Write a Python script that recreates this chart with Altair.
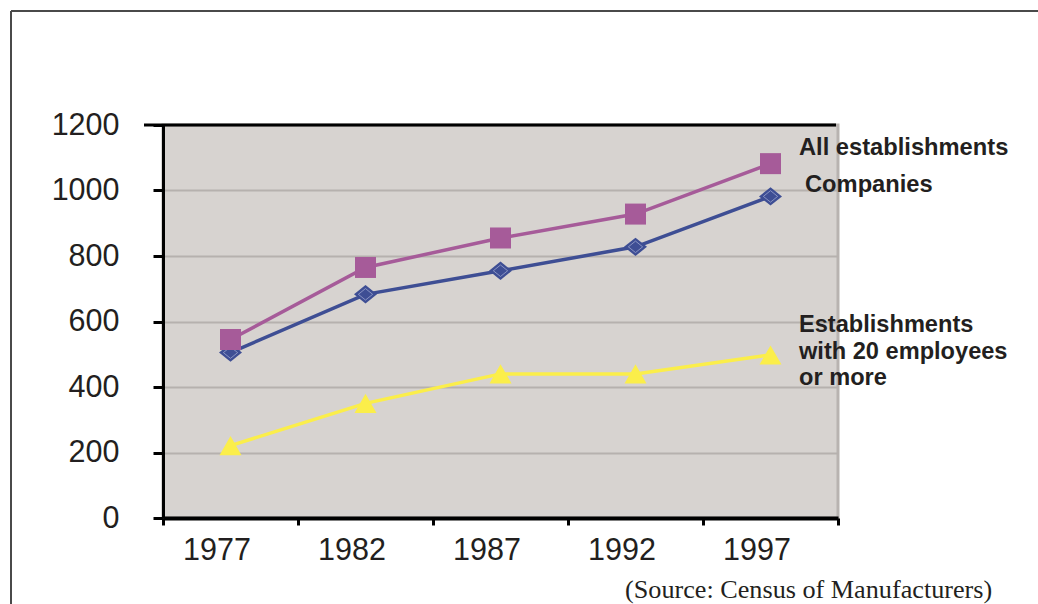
import altair as alt
import pandas as pd

# Census of Manufacturers counts, by census year
years = ["1977", "1982", "1987", "1992", "1997"]
companies = [505, 683, 755, 828, 982]
all_establishments = [545, 765, 855, 928, 1082]
establishments_20plus = [221, 350, 440, 440, 498]

series_names = ["Companies", "All establishments", "Establishments with 20 employees or more"]
series_values = [companies, all_establishments, establishments_20plus]
series_colors = ["#3E4E94", "#A65B99", "#FBEE4A"]

y_ticks = [0, 200, 400, 600, 800, 1000, 1200]

WIDE_DIAMOND = "M-1,0L0,-0.8L1,0L0,0.8Z"
INNER_DIAMOND = "M-0.62,0L0,-0.5L0.62,0L0,0.5Z"
series_shapes = [WIDE_DIAMOND, "square", "triangle-up"]
series_sizes = [529, 441, 484]

rows = []
for name, vals in zip(series_names, series_values):
    for yr, v in zip(years, vals):
        rows.append({"series": name, "year": yr, "value": v})
df = pd.DataFrame(rows)

FONT = "Liberation Sans"
INK = "#231F20"

x_enc = alt.X(
    "year:O",
    bandPosition=0.5,
    scale=alt.Scale(type="band", domain=years, paddingInner=0, paddingOuter=0),
    axis=alt.Axis(
        title=None, labelAngle=0, tickBand="extent", grid=False,
        domainColor="black", domainWidth=4, tickColor="black", tickWidth=3,
        tickSize=7, labelFont=FONT, labelFontSize=30.5, labelColor=INK,
        labelPadding=10, labelOffset=-14,
    ),
)
y_enc = alt.Y(
    "value:Q",
    scale=alt.Scale(domain=[0, 1200], nice=False, zero=True),
    axis=alt.Axis(
        title=None, values=y_ticks, format="d", grid=True, gridColor="#B6B1AE",
        gridWidth=2, domainColor="black", domainWidth=3, tickColor="black",
        tickWidth=3, tickSize=10, labelFont=FONT, labelFontSize=30.5,
        labelColor=INK, labelPadding=34,
    ),
)

layers = []
for name, color, shape, size in zip(series_names, series_colors, series_shapes, series_sizes):
    sub = df[df["series"] == name]
    base = alt.Chart(sub).encode(x=x_enc, y=y_enc)
    layers.append(base.mark_line(color=color, strokeWidth=3.5))
    layers.append(base.mark_point(shape=shape, size=size, filled=True, color=color, opacity=1))
    if shape == WIDE_DIAMOND:
        layers.append(base.mark_point(shape=INNER_DIAMOND, size=size, filled=False,
                                      color="#9AA3CE", strokeWidth=0.8, opacity=1))

one = alt.Data(values=[{"k": 0}])

# heavy black line along the top edge of the plot
top_line = alt.Chart(one).mark_rule(color="black", strokeWidth=3).encode(
    x=alt.value(-19), x2=alt.value(673), y=alt.value(0)
)

# frame around the figure
frame_left = alt.Chart(one).mark_rule(color="#4A4A4A", strokeWidth=2).encode(
    x=alt.value(-152), y=alt.value(-114), y2=alt.value(490)
)
frame_top = alt.Chart(one).mark_rule(color="#4A4A4A", strokeWidth=2).encode(
    x=alt.value(-152), x2=alt.value(880), y=alt.value(-114)
)

def label(text, x, y, size, line_height=None):
    kw = dict(align="left", baseline="alphabetic", font=FONT, fontSize=size,
              fontWeight="bold", color=INK)
    if line_height:
        kw["lineHeight"] = line_height
    return alt.Chart(one).mark_text(text=text, **kw).encode(x=alt.value(x), y=alt.value(y))

lbl_all = label("All establishments", 636, 30, 23.7)
lbl_comp = label("Companies", 642, 67, 23.7)
lbl_20 = label(["Establishments", "with 20 employees", "or more"], 636, 207, 23.6, 26.5)

source = alt.Chart(one).mark_text(
    text="(Source: Census of Manufacturers)", align="left", baseline="alphabetic",
    font="Liberation Serif", fontSize=26.2, color=INK,
).encode(x=alt.value(462), y=alt.value(473))

chart = alt.layer(
    *layers, top_line, frame_left, frame_top, lbl_all, lbl_comp, lbl_20, source
).properties(
    width=675, height=393,
    autosize=alt.AutoSizeParams(type="none"),
    padding={"left": 163, "top": 125, "right": 200, "bottom": 86},
    background="white",
).configure_view(
    fill="#D7D3D0", stroke="#B8B3B0", strokeWidth=3
)

chart.save("out.html", embed_options={"renderer": "svg", "actions": False})
